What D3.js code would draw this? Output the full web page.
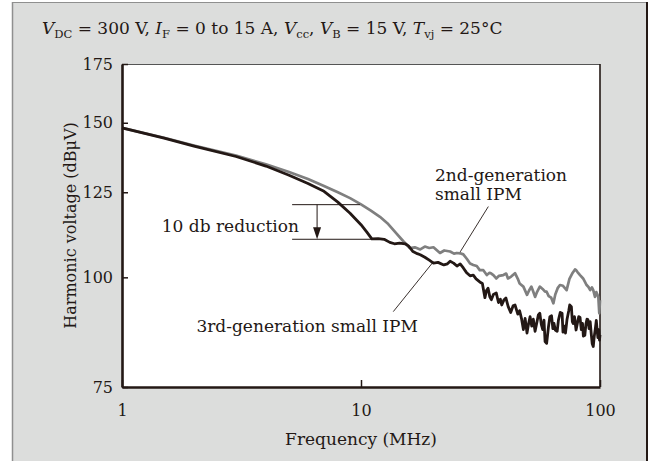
<!DOCTYPE html>
<html><head><meta charset="utf-8">
<script src="https://cdn.jsdelivr.net/npm/d3@7"></script>
<style>
html,body{margin:0;padding:0;background:#fff;}
svg{display:block;}
text{font-family:"DejaVu Serif",serif;fill:#231815;}
</style></head>
<body><svg id="c" width="654" height="461"></svg>
<script>
// ---- data ----
const xTicks = [1, 10, 100];
const yTicks = [75, 100, 125, 150, 175];

const freqGray = [1,1.5,2,3,4,5,6,7,8,9,10,11,12,13,14,15,16,16.8,17.7,18.5,19.3,20.1,21.4,22.3,23.6,24.5,25.2,26,26.8,27.7,28.6,29.5,30.5,31.4,32.5,33.6,34.5,35.1,35.8,36.8,37.8,39.4,40.5,41.2,42.5,44.1,45.3,46.1,47.8,49.5,50.5,51.6,52.5,53.5,54.5,56,57.5,58.9,59.8,61,62.5,63.8,65,66.5,68,70,72.5,74.5,76.5,78.6,79.4,80.5,82.5,85,86.5,87.9,89.5,91,92.5,93.7,95.3,96.5,97.5,98.4,99.3,100];
const voltGray = [148,144.2,141.3,137.6,134.5,131.8,129.4,127.1,125.0,123.1,121.1,119.1,117.2,115.0,112.4,110.0,108.0,108.2,107.6,108.4,108.0,108.2,106.6,107.3,107.0,106.4,106.6,106.5,106.2,105.0,103.7,103.3,103.0,101.9,101.9,100.6,101.2,101.0,100.6,99.7,100.4,100.6,101.0,99.7,100.2,101.1,99.6,98.4,97.6,95.5,96.6,97.6,96.4,95.0,96.2,97.6,97.0,96.3,96.3,95.2,94.8,93.4,95.6,97.2,98.0,97.8,96.7,99.6,101.0,102.1,101.9,101.4,100.6,99.7,98.8,98.0,97.5,96.7,97.4,96.7,95.0,96.2,95.6,95.0,91.0,94.2];

const freqBlack = [1,1.5,2,3,4,5,6,7,8,9,10,10.6,11.1,11.8,12.5,13.2,13.8,14.5,15.3,15.8,16.5,17.2,17.7,18.5,19.3,20.1,21,22.2,23,23.6,24.4,25.2,26,26.8,27.6,28.6,29.5,30.3,31.4,32.2,33,33.5,34,34.6,35.1,35.8,36.8,37.6,38.3,38.8,39.6,40.4,41.3,42.3,43.3,44.1,45.3,46.1,47,47.8,48.6,49.5,50.2,51,51.8,52.6,53.5,54.5,55.2,56,56.8,57.6,58.3,58.9,59.8,60.8,61.7,62.7,63.5,64.2,65,66.2,67,68.2,69.4,70,71,71.7,72.8,74,74.7,75.9,76.6,77.2,78.2,79.4,80.5,81.5,82.5,83.5,84.5,85.2,86.4,87.3,88.2,89,90,91,92,92.8,93.7,94.6,95.6,96.5,97.3,98,98.8,99.5,100];
const voltBlack = [148,144.1,141.1,137.3,133.9,130.7,127.9,125.3,121.8,118.3,114.8,112.5,110.6,110.7,110.5,109.6,109.2,109.4,109.2,108.6,107.0,106.4,106.1,105.4,104.6,103.8,104.0,103.3,103.6,104.3,103.8,103.0,103.6,102.5,101.3,100.4,100.6,99.6,98.8,98.4,94.8,96.6,97.2,95.0,94.3,95.6,96.0,93.6,94.4,93.0,94.2,94.7,92.6,91.2,92.8,93.0,90.8,91.6,89.6,87.2,89.8,86.4,88.4,90.2,88.0,89.6,86.8,89.0,90.6,91.0,88.4,87.2,89.4,84.5,84.1,87.6,90.2,90.4,87.4,88.6,87.1,86.8,89.4,91.2,91.0,86.6,88.0,86.4,89.6,91.6,93.0,92.6,89.0,88.6,90.2,87.1,88.8,90.2,90.0,87.2,88.6,85.7,85.9,88.4,89.6,89.5,87.4,89.0,86.0,84.0,83.4,85.6,87.4,89.3,87.0,85.4,87.2,84.8,86.0];

// annotation anchors (data units)
const reductionLevels = [121.0, 110.5];       // top / bottom reference lines (dBµV)
const reductionFreqs = [5.15, 9.9, 11.1];     // line start, top-line end, bottom-line end (MHz)
const reductionArrowFreq = 6.55;
const reductionText = {f: 5.5, v: 112.7, label: "10 db reduction"};
const label2nd = {f: 20.4, v: [128.8, 122.5], lines: ["2nd-generation", "small IPM"], leader: [[34.1, 120.4], [26.0, 106.9]]};
const label3rd = {f: 17.3, v: 86.7, text: "3rd-generation small IPM", leader: [[13.65, 91.4], [20.1, 104.2]]};

// ---- drawing ----
const ink = "#231815";
const svg = d3.select("#c");
const L = 122, R = 600, T = 64, B = 387;

// figure frame
svg.append("rect").attr("x", 12.5).attr("y", 2.5).attr("width", 635).attr("height", 470).attr("fill", "#dcdddc");
svg.append("line").attr("x1", 12).attr("x2", 648).attr("y1", 2.5).attr("y2", 2.5).attr("stroke", "#8f8f8f").attr("stroke-width", 1.2);
svg.append("line").attr("x1", 12.5).attr("x2", 12.5).attr("y1", 2).attr("y2", 461).attr("stroke", "#8f8f8f").attr("stroke-width", 1.5);
svg.append("line").attr("x1", 647).attr("x2", 647).attr("y1", 2).attr("y2", 461).attr("stroke", ink).attr("stroke-width", 2);

const x = d3.scaleLog().domain([1, 100]).range([L, R]);
const y = d3.scaleLog().domain([75, 175]).range([B, T]);

svg.append("rect").attr("x", L).attr("y", T).attr("width", R - L).attr("height", B - T).attr("fill", "#fff");
svg.append("line").attr("x1", L).attr("x2", R).attr("y1", T + 0.5).attr("y2", T + 0.5).attr("stroke", "#555").attr("stroke-width", 1);
svg.append("line").attr("x1", R).attr("x2", R).attr("y1", T).attr("y2", B).attr("stroke", ink).attr("stroke-width", 1.6);

// title
const title = svg.append("text").attr("x", 42).attr("y", 34).style("font-size", "17px");
const parts = [["V","i"],["DC","s"],[" = 300 V, ",""],["I","i"],["F","s"],[" = 0 to 15 A, ",""],["V","i"],["cc","s"],[", ",""],["V","i"],["B","s"],[" = 15 V, ",""],["T","i"],["vj","s"],[" = 25°C",""]];
let prevSub = false;
parts.forEach(([t, k]) => {
  const ts = title.append("tspan").text(t);
  if (k === "i") ts.style("font-style", "italic");
  if (k === "s") { ts.style("font-size", "11.5px").attr("dy", 4); prevSub = true; }
  else if (prevSub) { ts.attr("dy", -4); prevSub = false; }
});

// lines
const line = d3.line().x(d => x(d[0])).y(d => y(d[1]));
svg.append("path").datum(freqGray.map((f, i) => [f, voltGray[i]]))
  .attr("d", line).attr("fill", "none").attr("stroke", "#7f7f7f").attr("stroke-width", 2.7).attr("stroke-linejoin", "round");
svg.append("path").datum(freqBlack.map((f, i) => [f, voltBlack[i]]))
  .attr("d", line).attr("fill", "none").attr("stroke", ink).attr("stroke-width", 2.8).attr("stroke-linejoin", "round");

// axes
const yAxis = svg.append("g").attr("transform", `translate(${L},0)`)
  .call(d3.axisLeft(y).tickValues(yTicks).tickFormat(d3.format("d")).tickSize(-6).tickSizeOuter(0).tickPadding(9));
const xAxis = svg.append("g").attr("transform", `translate(0,${B})`)
  .call(d3.axisBottom(x).tickValues(xTicks).tickFormat(d3.format("d")).tickSize(-7).tickSizeOuter(0).tickPadding(18));
[yAxis, xAxis].forEach(g => {
  g.select(".domain").attr("stroke", ink).attr("stroke-width", 2.6);
  g.selectAll(".tick line").attr("stroke", ink).attr("stroke-width", 1.5);
  g.selectAll(".tick text").style("font-family", "DejaVu Serif, serif").style("font-size", "16px").attr("fill", ink);
});

// axis titles
svg.append("text").attr("x", (L + R) / 2).attr("y", 445).attr("text-anchor", "middle").style("font-size", "17px").text("Frequency (MHz)");
svg.append("text").attr("transform", `translate(76,${(T + B) / 2}) rotate(-90)`).attr("text-anchor", "middle").style("font-size", "16px").text("Harmonic voltage (dBμV)");

// 10 dB reduction annotation
const thin = g => g.attr("stroke", ink).attr("stroke-width", 1);
svg.append("line").attr("x1", x(reductionFreqs[0])).attr("x2", x(reductionFreqs[1])).attr("y1", y(reductionLevels[0])).attr("y2", y(reductionLevels[0])).call(thin);
svg.append("line").attr("x1", x(reductionFreqs[0])).attr("x2", x(reductionFreqs[2])).attr("y1", y(reductionLevels[1])).attr("y2", y(reductionLevels[1])).call(thin);
const ax = x(reductionArrowFreq), ay0 = y(reductionLevels[0]), ay1 = y(reductionLevels[1]);
svg.append("line").attr("x1", ax).attr("x2", ax).attr("y1", ay0).attr("y2", ay1 - 10).call(thin);
svg.append("path").attr("d", `M${ax - 4},${ay1 - 12}L${ax + 4},${ay1 - 12}L${ax},${ay1}Z`).attr("fill", ink);
svg.append("text").attr("x", x(reductionText.f)).attr("y", y(reductionText.v)).attr("text-anchor", "end").style("font-size", "17px").text(reductionText.label);

// curve labels
const t2 = svg.append("text").style("font-size", "17px");
label2nd.lines.forEach((s, i) => t2.append("tspan").attr("x", x(label2nd.f)).attr("y", y(label2nd.v[i])).text(s));
svg.append("line").attr("x1", x(label2nd.leader[0][0])).attr("y1", y(label2nd.leader[0][1])).attr("x2", x(label2nd.leader[1][0])).attr("y2", y(label2nd.leader[1][1])).attr("stroke", ink).attr("stroke-width", 0.9);
svg.append("text").attr("x", x(label3rd.f)).attr("y", y(label3rd.v)).attr("text-anchor", "end").style("font-size", "17px").text(label3rd.text);
svg.append("line").attr("x1", x(label3rd.leader[0][0])).attr("y1", y(label3rd.leader[0][1])).attr("x2", x(label3rd.leader[1][0])).attr("y2", y(label3rd.leader[1][1])).attr("stroke", ink).attr("stroke-width", 0.9);
</script></body></html>
